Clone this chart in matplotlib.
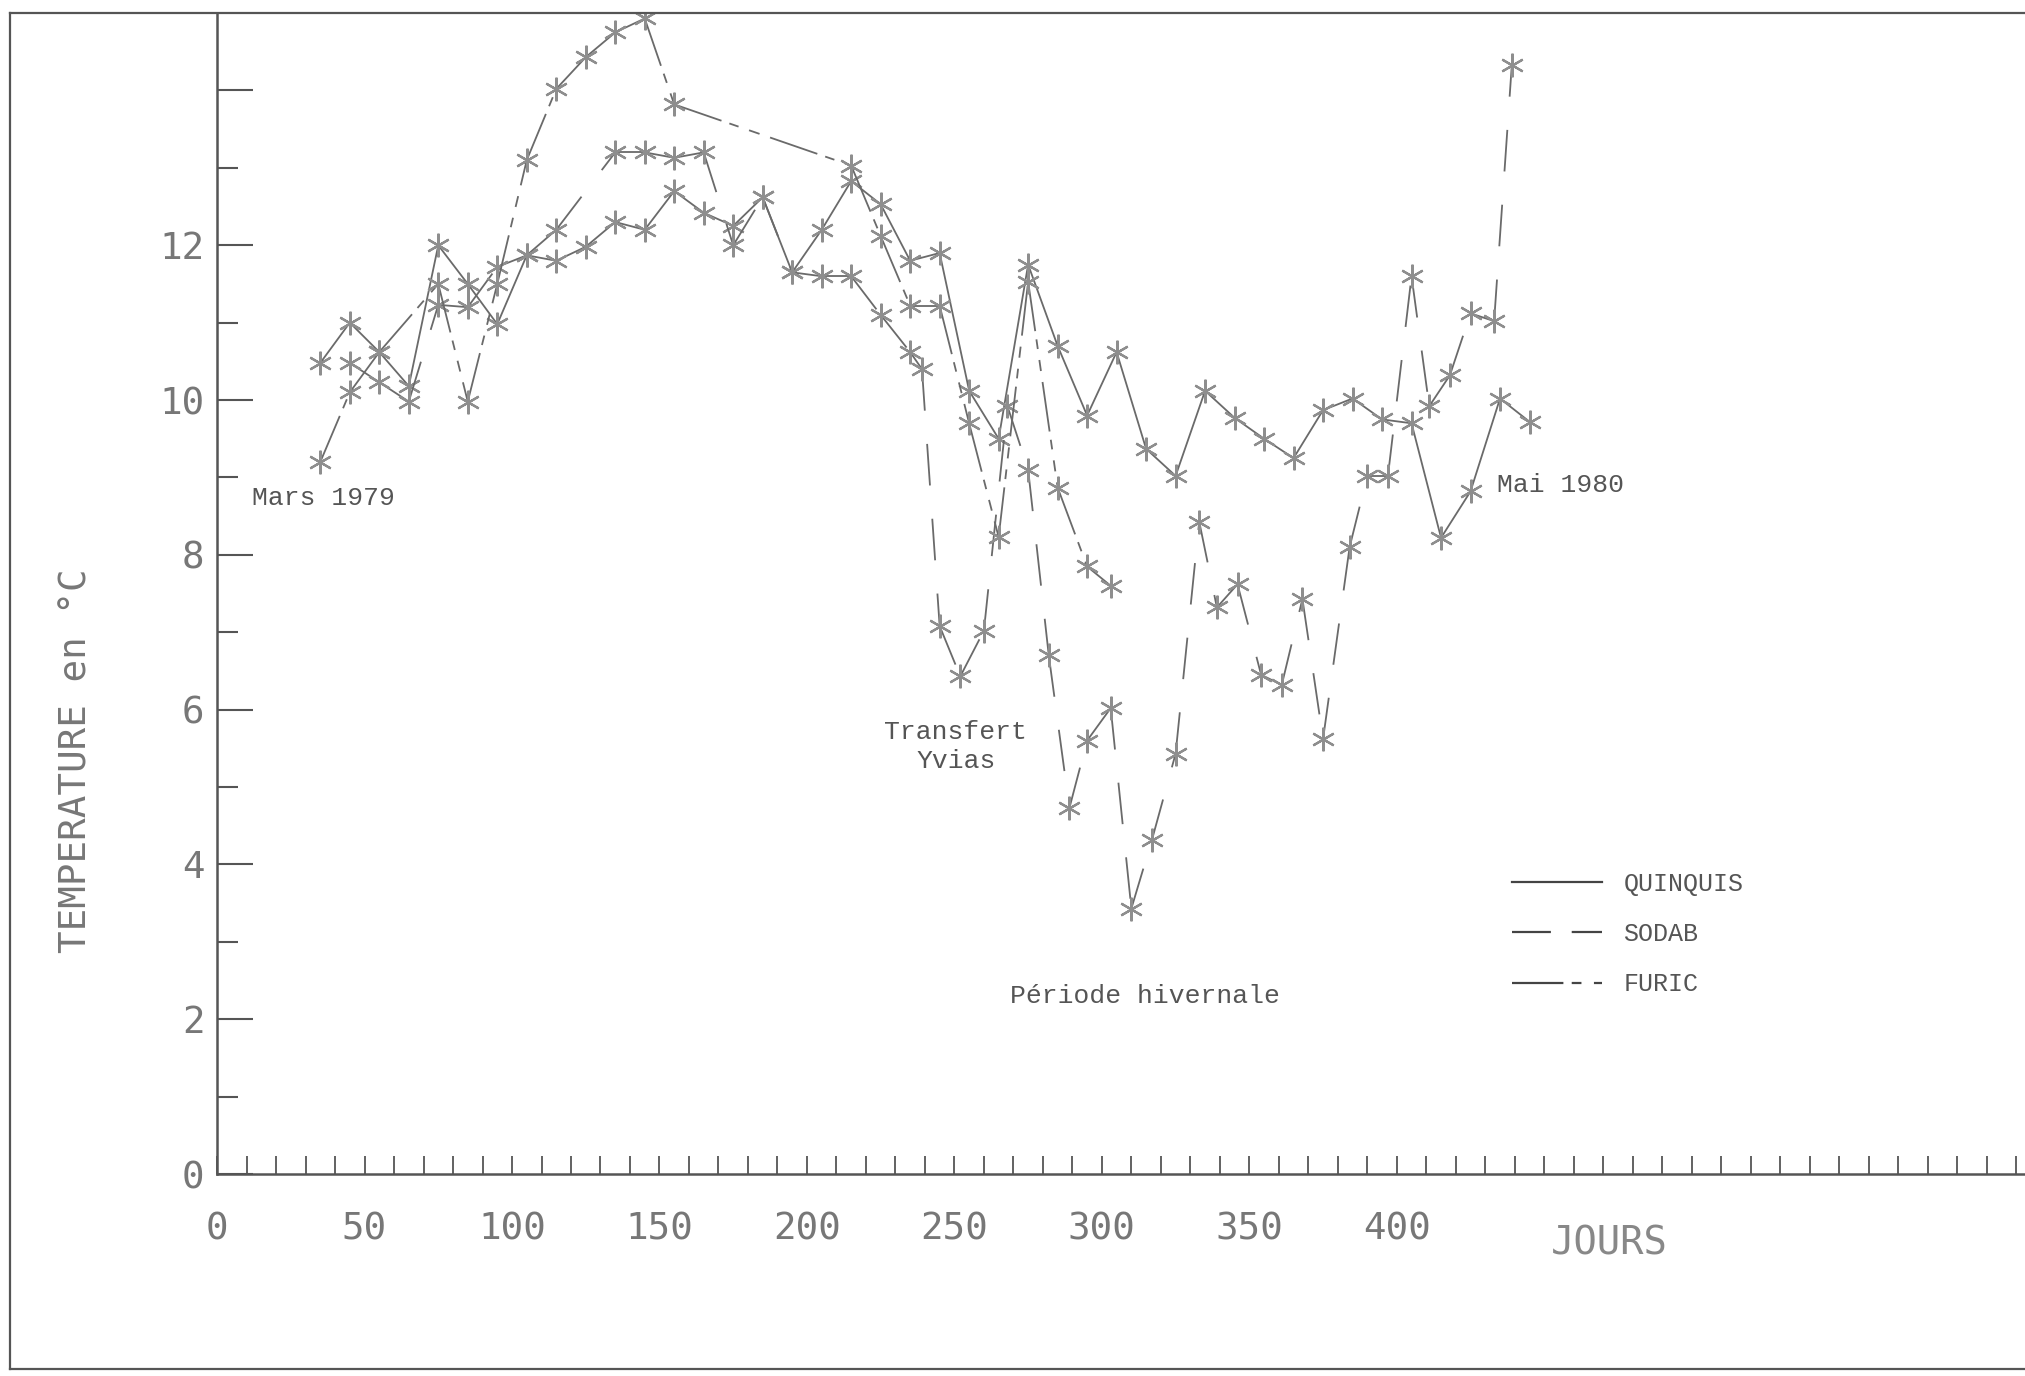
import matplotlib
matplotlib.use('Agg')
import matplotlib.pyplot as plt
from matplotlib.lines import Line2D
from matplotlib.ticker import FixedLocator, MultipleLocator

plt.rcParams['lines.scale_dashes'] = False
plt.rcParams['font.family'] = 'DejaVu Sans Mono'

# QUINQUIS (trait plein)
quinquis_jours = [35, 45, 55, 65, 75, 85, 95, 105, 115, 125, 135, 145, 155, 165, 175,
                  185, 195, 205, 215, 225, 235, 245, 255, 265, 275, 285, 295, 305, 315,
                  325, 335, 345, 355, 365, 375, 385, 395, 405, 415, 425, 435, 445]
quinquis_temp = [10.48, 11.0, 10.62, 10.18, 12.0, 11.5, 10.98, 11.87, 11.8, 11.98,
                 12.3, 12.2, 12.7, 12.42, 12.25, 12.62, 11.65, 12.2, 12.83, 12.53,
                 11.8, 11.9, 10.12, 9.5, 11.75, 10.7, 9.8, 10.62, 9.37, 9.02,
                 10.12, 9.77, 9.5, 9.25, 9.87, 10.02, 9.75, 9.7, 8.22, 8.82,
                 10.02, 9.72]

# SODAB (tirets longs)
sodab_jours = [45, 55, 65, 75, 85, 95, 105, 115, 135, 145, 155, 165, 175, 185, 195,
               205, 215, 225, 235, 239, 245, 252, 260, 268, 275, 282, 289, 295, 303,
               310, 317, 325, 333, 339, 346, 354, 361, 368, 375, 384, 390, 397, 405,
               411, 418, 425, 433, 439]
sodab_temp = [10.48, 10.23, 9.98, 11.23, 11.2, 11.72, 11.87, 12.2, 13.2, 13.2,
              13.13, 13.2, 12.0, 12.62, 11.65, 11.6, 11.6, 11.1, 10.62, 10.4,
              7.08, 6.43, 7.02, 9.92, 9.1, 6.7, 4.73, 5.6, 6.02, 3.43,
              4.32, 5.43, 8.43, 7.32, 7.62, 6.45, 6.32, 7.43, 5.62, 8.1,
              9.02, 9.02, 11.6, 9.92, 10.32, 11.12, 11.02, 14.33]

# FURIC (tiret long + deux courts)
furic_jours = [35, 45, 55, 75, 85, 95, 105, 115, 125, 135, 145, 155, 215, 225, 235,
               245, 255, 265, 275, 285, 295, 303]
furic_temp = [9.2, 10.1, 10.62, 11.5, 9.98, 11.5, 13.1, 14.02, 14.43, 14.75, 14.93,
              13.82, 13.03, 12.12, 11.22, 11.22, 9.7, 8.23, 11.53, 8.87, 7.85, 7.6]

x_labels = [0, 50, 100, 150, 200, 250, 300, 350, 400]
y_labels = [0, 2, 4, 6, 8, 10, 12]

style_q = '-'
style_s = (0, (30, 24))
style_f = (0, (36, 6, 7, 8, 8, 8))
gris_ligne = '#6a6a6a'
gris_etoile = '#8e8e8e'
gris_texte = '#555555'
mono = 'Liberation Mono'

fig = plt.figure(figsize=(20.25, 13.76), dpi=100)
ax = fig.add_axes([0.1072, 0.1468, 0.8928, 0.8437])


def trace(jours, temp, style):
    # segment par segment, comme le traceur : le motif repart a chaque point
    for i in range(len(jours) - 1):
        ax.plot(jours[i:i + 2], temp[i:i + 2], color=gris_ligne, lw=1.3,
                linestyle=style, dash_capstyle='butt')
    ax.plot(jours, temp, linestyle='none', marker=(6, 2, 0), ms=17, mew=1.6,
            color=gris_etoile)


trace(quinquis_jours, quinquis_temp, style_q)
trace(sodab_jours, sodab_temp, style_s)
trace(furic_jours, furic_temp, style_f)

ax.set_xlim(0, 613)
ax.set_ylim(0, 15)

for s in ['top', 'right']:
    ax.spines[s].set_visible(False)
for s in ['left', 'bottom']:
    ax.spines[s].set_color('#555555')
    ax.spines[s].set_linewidth(1.8)

ax.yaxis.set_major_locator(FixedLocator(list(range(0, 15, 2))))
ax.set_yticklabels([str(v) for v in y_labels] + [''])
ax.yaxis.set_minor_locator(FixedLocator(list(range(1, 15, 2))))
ax.xaxis.set_major_locator(FixedLocator(x_labels))
ax.set_xticklabels([str(v) for v in x_labels])
ax.xaxis.set_minor_locator(MultipleLocator(10))

ax.tick_params(axis='y', which='major', direction='in', length=26, width=1.5,
               color='#555555', pad=9, labelsize=27, labelcolor='#777777')
ax.tick_params(axis='y', which='minor', direction='in', length=15, width=1.5,
               color='#555555')
ax.tick_params(axis='x', which='both', direction='in', length=13, width=1.3,
               color='#555555')
ax.tick_params(axis='x', which='major', pad=27, labelsize=27, labelcolor='#777777')

ax.text(472, -0.9, 'JOURS', fontsize=28, color='#888888', ha='center',
        va='center', clip_on=False)
fig.text(0.038, 0.447, 'TEMPERATURE en °C', rotation=90, ha='center', va='center',
         fontsize=27, color='#777777')

ax.text(12, 8.73, 'Mars 1979', family=mono, fontsize=19, color=gris_texte, va='center')
ax.text(434, 8.9, 'Mai 1980', family=mono, fontsize=19, color=gris_texte, va='center')
ax.text(250.5, 5.52, 'Transfert\nYvias', family=mono, fontsize=19, color=gris_texte,
        ha='center', va='center', linespacing=1.25)
ax.text(269, 2.3, 'Période hivernale', family=mono, fontsize=19, color=gris_texte,
        va='center')

poignees = [Line2D([], [], color='#444444', lw=1.6, linestyle=style_q),
            Line2D([], [], color='#444444', lw=1.6, linestyle=(0, (28, 15))),
            Line2D([], [], color='#444444', lw=1.6, linestyle=(0, (37, 6, 7, 9, 10, 20)))]
leg = ax.legend(poignees, ['QUINQUIS', 'SODAB', 'FURIC'], loc='upper left',
                bbox_to_anchor=(0.7467, 0.3663), bbox_transform=fig.transFigure,
                frameon=False, borderpad=0, borderaxespad=0, handlelength=3.6,
                handletextpad=0.85, labelspacing=1.05,
                prop={'family': mono, 'size': 18})
for t in leg.get_texts():
    t.set_color(gris_texte)

# cadre de la page
cadre = dict(transform=fig.transFigure, color='#555555', lw=1.6)
fig.add_artist(Line2D([10 / 2025, 10 / 2025], [1 - 13 / 1376, 1 - 1369 / 1376], **cadre))
fig.add_artist(Line2D([10 / 2025, 1], [1 - 13 / 1376, 1 - 13 / 1376], **cadre))
fig.add_artist(Line2D([10 / 2025, 1], [1 - 1369 / 1376, 1 - 1369 / 1376], **cadre))

fig.savefig('out.png', dpi=100)
